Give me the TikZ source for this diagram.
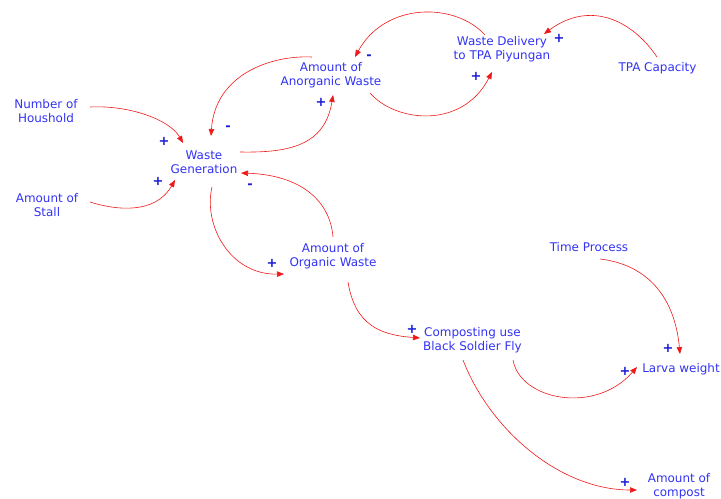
\documentclass[tikz,border=0pt]{standalone}
\usepackage{fontspec}
\setmainfont{DejaVu Sans}
\usetikzlibrary{arrows.meta}
\definecolor{varblue}{RGB}{50,50,245}
\definecolor{polblue}{RGB}{25,25,215}
\definecolor{linkred}{RGB}{240,25,25}
\tikzset{
  var/.style={text=varblue, align=center, inner sep=0pt,
              font=\fontsize{12}{13.8}\selectfont},
  link/.style={draw=linkred, line width=0.6bp,
               -{Triangle[length=7bp,width=5.5bp]}},
  pol/.style={text=polblue, inner sep=0pt,
              font=\fontsize{13}{13}\selectfont\bfseries}
}
\begin{document}
\begin{tikzpicture}[x=1bp,y=-1bp]
\useasboundingbox (0,0) rectangle (721,499);

% variables
\node[var] (nh)  at (46,111)    {Number of\\Houshold};
\node[var] (st)  at (47,205)    {Amount of\\Stall};
\node[var] (wg)  at (204,162)   {Waste\\Generation};
\node[var] (aa)  at (331,75)    {Amount of\\Anorganic Waste};
\node[var] (wd)  at (502,49.5)  {Waste Delivery\\to TPA Piyungan};
\node[var] (tpa) at (657.5,68)  {TPA Capacity};
\node[var] (ow)  at (333,256)   {Amount of\\Organic Waste};
\node[var] (bsf) at (472.5,340) {Composting use\\Black Soldier Fly};
\node[var] (tp)  at (589,247)   {Time Process};
\node[var] (lw)  at (681,369)   {Larva weight};
\node[var] (cp)  at (679,486.5) {Amount of\\compost};

% causal links
\draw[link] ([shift={(-17,-14.5)}]wd.center) .. controls (455,2) and (385,2) .. ([shift={(24,-18)}]aa.center);
\draw[link] ([shift={(39,18)}]aa.center) .. controls (395,122) and (462,130) .. ([shift={(-10,22.5)}]wd.center);
\draw[link] ([shift={(36,-10)}]wg.center) .. controls (290,153) and (325,145) .. ([shift={(2,20)}]aa.center);
\draw[link] ([shift={(-19,-18)}]aa.center) .. controls (270,55) and (215,75) .. ([shift={(7,-26)}]wg.center);
\draw[link] ([shift={(44,-4)}]nh.center) .. controls (130,105) and (170,120) .. ([shift={(-21,-19)}]wg.center);
\draw[link] ([shift={(43,-3)}]st.center) .. controls (115,210) and (155,215) .. ([shift={(-29,18)}]wg.center);
\draw[link] ([shift={(0,-19)}]ow.center) .. controls (330,200) and (300,175) .. ([shift={(37,11)}]wg.center);
\draw[link] ([shift={(8,25)}]wg.center) .. controls (203,225) and (230,275) .. ([shift={(-49,18)}]ow.center);
\draw[link] ([shift={(15,26)}]ow.center) .. controls (355,325) and (380,335) .. ([shift={(-52.5,-2)}]bsf.center);
\draw[link] ([shift={(11,12)}]tp.center) .. controls (650,265) and (675,300) .. ([shift={(-1,-15)}]lw.center);
\draw[link] ([shift={(40.5,20)}]bsf.center) .. controls (520,400) and (595,415) .. ([shift={(-44,-2)}]lw.center);
\draw[link] ([shift={(-9.5,20)}]bsf.center) .. controls (490,430) and (560,490) .. ([shift={(-42,3.5)}]cp.center);
\draw[link] ([shift={(-0.5,-11)}]tpa.center) .. controls (632,20) and (590,0) .. ([shift={(42,-15.5)}]wd.center);

% polarities
\node[pol] (p1)  at (369,55)  {\vphantom{+}-};
\node[pol] (p2)  at (476,76)  {+};
\node[pol] (p3)  at (321,102) {+};
\node[pol] (p4)  at (228,126) {\vphantom{+}-};
\node[pol] (p5)  at (164,141) {+};
\node[pol] (p6)  at (158,181) {+};
\node[pol] (p7)  at (250,184) {\vphantom{+}-};
\node[pol] (p8)  at (272,263) {+};
\node[pol] (p9)  at (412,329) {+};
\node[pol] (p10) at (668,348) {+};
\node[pol] (p11) at (625,371) {+};
\node[pol] (p12) at (625,482) {+};
\node[pol] (p13) at (559,38)  {+};
\end{tikzpicture}
\end{document}
